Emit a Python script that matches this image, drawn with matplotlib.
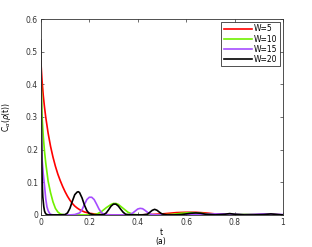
import matplotlib
matplotlib.use("Agg")
import matplotlib.pyplot as plt

# -- Data --------------------------------------------------------------------

t_w5 = [0, 0.005, 0.01, 0.015, 0.02, 0.03, 0.04, 0.05, 0.06, 0.07, 0.08, 0.09,
        0.10, 0.11, 0.12, 0.13, 0.14, 0.15, 0.16, 0.18, 0.20, 0.22, 0.25, 0.30,
        0.40, 0.45, 0.50, 0.53, 0.56, 0.60, 0.64, 0.68, 0.72, 0.76, 0.80, 0.85,
        0.90, 0.95, 1.0]
c_w5 = [0.47, 0.41, 0.365, 0.33, 0.30, 0.25, 0.21, 0.177, 0.149, 0.125, 0.105,
        0.087, 0.071, 0.057, 0.045, 0.035, 0.027, 0.021, 0.016, 0.009, 0.005,
        0.003, 0.001, 0, 0, 0.001, 0.003, 0.005, 0.007, 0.008, 0.008, 0.006,
        0.003, 0.001, 0, 0, 0.001, 0.001, 0]

t_w10 = [0, 0.005, 0.01, 0.015, 0.02, 0.03, 0.04, 0.05, 0.06, 0.07, 0.08, 0.09,
         0.10, 0.15, 0.20, 0.23, 0.25, 0.27, 0.29, 0.30, 0.31, 0.32, 0.34, 0.36,
         0.38, 0.40, 0.45, 0.50, 0.55, 0.58, 0.62, 0.66, 0.70, 0.75, 0.80, 0.85,
         0.90, 0.95, 1.0]
c_w10 = [0.45, 0.30, 0.24, 0.195, 0.16, 0.103, 0.068, 0.04, 0.02, 0.009, 0.003,
         0.001, 0, 0, 0, 0.002, 0.01, 0.022, 0.032, 0.035, 0.035, 0.032, 0.02,
         0.008, 0.002, 0, 0, 0, 0.002, 0.005, 0.007, 0.005, 0.002, 0, 0.001,
         0.002, 0.002, 0.001, 0]

t_w15 = [0, 0.002, 0.005, 0.01, 0.015, 0.02, 0.025, 0.03, 0.035, 0.04, 0.05,
         0.08, 0.12, 0.14, 0.16, 0.17, 0.18, 0.19, 0.20, 0.21, 0.22, 0.23, 0.24,
         0.25, 0.26, 0.28, 0.32, 0.36, 0.37, 0.38, 0.39, 0.40, 0.41, 0.42, 0.43,
         0.44, 0.45, 0.46, 0.48, 0.52, 0.56, 0.60, 0.64, 0.68, 0.72, 0.76, 0.80,
         0.84, 0.88, 0.92, 0.96, 1.0]
c_w15 = [0.45, 0.25, 0.17, 0.125, 0.09, 0.05, 0.025, 0.013, 0.006, 0.002, 0,
         0, 0, 0.001, 0.006, 0.016, 0.032, 0.047, 0.054, 0.054, 0.047, 0.033,
         0.018, 0.007, 0.002, 0, 0, 0, 0.002, 0.006, 0.012, 0.018, 0.02, 0.019,
         0.014, 0.008, 0.003, 0.001, 0, 0, 0, 0, 0.001, 0.002, 0.003, 0.003,
         0.002, 0.001, 0.002, 0.003, 0.002, 0.001]

t_w20 = [0, 0.002, 0.004, 0.006, 0.008, 0.01, 0.012, 0.015, 0.018, 0.022, 0.03,
         0.05, 0.08, 0.10, 0.11, 0.12, 0.13, 0.14, 0.15, 0.155, 0.16, 0.17, 0.18,
         0.19, 0.20, 0.22, 0.24, 0.26, 0.27, 0.28, 0.29, 0.30, 0.31, 0.32, 0.33,
         0.34, 0.35, 0.37, 0.40, 0.42, 0.44, 0.45, 0.46, 0.47, 0.48, 0.49, 0.50,
         0.52, 0.55, 0.58, 0.60, 0.62, 0.64, 0.66, 0.68, 0.72, 0.76, 0.78, 0.80,
         0.84, 0.88, 0.92, 0.95, 0.98, 1.0]
c_w20 = [0.535, 0.30, 0.15, 0.09, 0.055, 0.04, 0.025, 0.012, 0.006, 0.002, 0,
         0, 0, 0.001, 0.006, 0.02, 0.042, 0.062, 0.07, 0.071, 0.068, 0.052,
         0.03, 0.013, 0.004, 0, 0, 0.001, 0.006, 0.016, 0.027, 0.033, 0.033,
         0.027, 0.017, 0.008, 0.002, 0, 0, 0, 0.002, 0.008, 0.014, 0.017, 0.014,
         0.008, 0.003, 0, 0, 0.001, 0.003, 0.005, 0.006, 0.005, 0.002, 0, 0.002,
         0.004, 0.002, 0, 0, 0.001, 0.003, 0.001, 0]

labels = ["W=5", "W=10", "W=15", "W=20"]
colors = ["#ff0000", "#70f000", "#a64dff", "#000000"]
xticks = [0, 0.2, 0.4, 0.6, 0.8, 1]
yticks = [0, 0.1, 0.2, 0.3, 0.4, 0.5, 0.6]

# -- Figure -------------------------------------------------------------------

plt.rcParams["font.family"] = "DejaVu Sans"
fig = plt.figure(figsize=(3.12, 2.47), dpi=100)
ax = fig.add_axes([0.131, 0.130, 0.776, 0.793])

series = [(t_w5, c_w5), (t_w10, c_w10), (t_w15, c_w15), (t_w20, c_w20)]
for (t, c), lab, col in zip(series, labels, colors):
    ax.plot(t, c, color=col, lw=1.2, label=lab)

ax.set_xlim(0, 1)
ax.set_ylim(0, 0.6)
ax.set_xticks(xticks)
ax.set_xticklabels(["0", "0.2", "0.4", "0.6", "0.8", "1"])
ax.set_yticks(yticks)
ax.set_yticklabels(["0", "0.1", "0.2", "0.3", "0.4", "0.5", "0.6"])
ax.tick_params(direction="in", length=2, width=0.5, labelsize=5.5,
               top=True, right=True, colors="#333333", pad=2)
for sp in ax.spines.values():
    sp.set_linewidth(0.6)
    sp.set_color("#333333")

ax.set_ylabel(r"C$_\alpha$($\rho$(t))", fontsize=5.5, labelpad=9)
fig.text(0.516, 0.058, "t", ha="center", va="center", fontsize=5.5)
fig.text(0.516, 0.022, "(a)", ha="center", va="center", fontsize=5.5)

leg = ax.legend(loc="upper right", fontsize=5.5, frameon=True, fancybox=False,
                handlelength=3.7, handletextpad=0.3, borderpad=0.3,
                labelspacing=0.15, borderaxespad=0.4)
leg.get_frame().set_edgecolor("#000000")
leg.get_frame().set_linewidth(0.6)

fig.savefig("out.png", dpi=100)
